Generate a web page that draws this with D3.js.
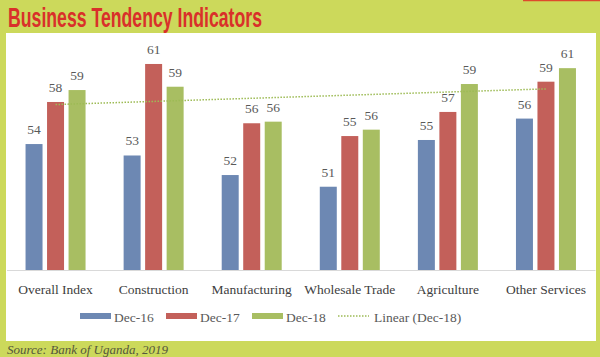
<!DOCTYPE html>
<html>
<head>
<meta charset="utf-8">
<script src="https://cdn.jsdelivr.net/npm/d3@7"></script>
<style>
  html, body { margin: 0; padding: 0; background: #CCD95B; }
  svg { display: block; }
</style>
</head>
<body>
<svg id="chart" width="600" height="357"></svg>
<script>
// ---- data ----
const categories = ["Overall Index", "Construction", "Manufacturing", "Wholesale Trade", "Agriculture", "Other Services"];
const seriesNames = ["Dec-16", "Dec-17", "Dec-18"];
const dec16 = [54.38, 53.45, 51.86, 50.91, 54.71, 56.45];
const dec17 = [57.80, 60.89, 56.07, 55.03, 56.99, 59.45];
const dec18 = [58.77, 59.04, 56.20, 55.55, 59.26, 60.55];
const trendLabel = "Linear (Dec-18)";
const titleText = "Business Tendency Indicators";
const sourceText = "Source: Bank of Uganda, 2019";

const seriesValues = [dec16, dec17, dec18];
const colors = ["#6D88B3", "#C3605A", "#A8BE62"];
const trendColor = "#9DBB55";

const svg = d3.select("#chart");
const W = 600, H = 357;

// background + panel
svg.append("rect").attr("x", 0).attr("y", 0).attr("width", W).attr("height", H).attr("fill", "#CCD95B");
svg.append("line").attr("x1", 523).attr("x2", 600).attr("y1", 0.5).attr("y2", 0.5)
  .attr("stroke", "#DE4A2C").attr("stroke-width", 1.5);
svg.append("rect").attr("x", 6).attr("y", 33).attr("width", 590).attr("height", 308).attr("fill", "#FFFFFF");

// title
svg.append("text")
  .attr("x", 8).attr("y", 26.5)
  .attr("textLength", 254).attr("lengthAdjust", "spacingAndGlyphs")
  .style("font-family", "'Liberation Sans Narrow', 'Arial Narrow', 'Liberation Sans', sans-serif")
  .style("font-weight", "bold").style("font-size", "28px")
  .attr("fill", "#D9302A")
  .text(titleText);

// source
svg.append("text")
  .attr("x", 7).attr("y", 353.5)
  .style("font-family", "'Liberation Serif', serif").style("font-style", "italic")
  .style("font-size", "13px").attr("fill", "#55573C")
  .text(sourceText);

// scales
const x0 = d3.scaleBand().domain(categories).range([6.5, 595]).padding(0);
const x1 = d3.scaleBand().domain(seriesNames).range([-30, 30]).paddingInner(0.21).paddingOuter(0);
const y = d3.scaleLinear().domain([44.14, 64]).range([270, 270 - 12.3 * (64 - 44.14)]);

// axis line (category axis)
const xAxis = d3.axisBottom(x0).tickSize(0).tickPadding(14);
const gx = svg.append("g").attr("transform", "translate(0,270)").call(xAxis);
gx.select(".domain").attr("stroke", "#D9D9D9").attr("stroke-width", 1);
gx.selectAll(".tick text")
  .style("font-family", "'Liberation Serif', serif").style("font-size", "13.5px")
  .attr("fill", "#404040");

// bars
const groups = svg.append("g").selectAll("g")
  .data(categories).join("g")
  .attr("transform", d => `translate(${x0(d) + x0.bandwidth() / 2},0)`);

seriesNames.forEach((s, si) => {
  groups.append("rect")
    .attr("x", (d) => x1(s))
    .attr("width", x1.bandwidth())
    .attr("y", (d, i) => y(seriesValues[si][i]))
    .attr("height", (d, i) => y(44.14) - y(seriesValues[si][i]))
    .attr("fill", colors[si]);
  groups.append("text")
    .attr("x", x1(s) + x1.bandwidth() / 2)
    .attr("y", (d, i) => y(seriesValues[si][i]) - 10)
    .attr("text-anchor", "middle")
    .style("font-family", "'Liberation Serif', serif").style("font-size", "13.5px")
    .attr("fill", "#595959")
    .text((d, i) => d3.format(".0f")(seriesValues[si][i]));
});

// linear trendline for Dec-18 (least squares over category index 1..n)
const n = dec18.length;
const xs = d3.range(1, n + 1);
const mx = d3.mean(xs), my = d3.mean(dec18);
const slope = d3.sum(xs, (xv, i) => (xv - mx) * (dec18[i] - my)) / d3.sum(xs, xv => (xv - mx) ** 2);
const intercept = my - slope * mx;
const trendPts = categories.map((c, i) => [x0(c) + x0.bandwidth() / 2, y(intercept + slope * (i + 1))]);
svg.append("path")
  .attr("d", d3.line()(trendPts))
  .attr("fill", "none").attr("stroke", trendColor)
  .attr("stroke-width", 1.5).attr("stroke-dasharray", "1.5,1.5");

// legend
const legend = svg.append("g");
const legendItems = seriesNames.concat([trendLabel]);
legendItems.forEach((name, i) => {
  const lx = 80 + i * 86;
  if (i < 3) {
    legend.append("rect").attr("x", lx).attr("y", 313).attr("width", 31).attr("height", 6).attr("fill", colors[i]);
  } else {
    legend.append("line").attr("x1", lx).attr("x2", lx + 31).attr("y1", 316).attr("y2", 316)
      .attr("stroke", trendColor).attr("stroke-width", 1.5).attr("stroke-dasharray", "1.5,1.5");
  }
  legend.append("text")
    .attr("x", lx + 34 + (i === 3 ? 2 : 0)).attr("y", 322)
    .style("font-family", "'Liberation Serif', serif").style("font-size", "13.5px")
    .attr("fill", "#595959")
    .text(name);
});
</script>
</body>
</html>
